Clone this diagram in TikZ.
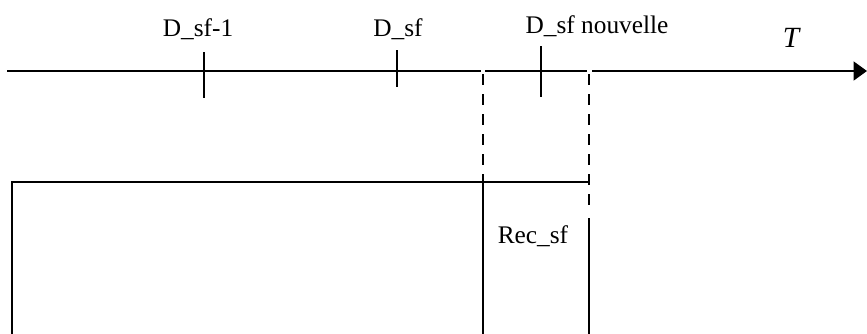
\documentclass[tikz,border=0pt]{standalone}
\usepackage{fontspec}
\setmainfont{Liberation Serif}
\usetikzlibrary{arrows.meta}
\begin{document}
\begin{tikzpicture}[x=0.75pt,y=-0.75pt,
  solidline/.style={line width=1.8pt},
  dashline/.style={line width=1.8pt,dash pattern=on 8pt off 7pt},
  lbl/.style={font=\fontsize{19}{22}\selectfont,anchor=base,inner sep=0pt},
  axisarrow/.style={line width=1.8pt,-{Triangle[length=10pt,width=14pt]}}]
\useasboundingbox (0,0) rectangle (867,333);
% axis coordinates
\coordinate (a0) at (7,71);
\coordinate (a1) at (481,71);
\coordinate (a2) at (485,71);
\coordinate (a3) at (587,71);
\coordinate (a4) at (592,71);
\coordinate (aend) at (867,71);
\draw[solidline] (a0) -- (a1);
\draw[solidline] (a2) -- (a3);
\draw[axisarrow] (a4) -- (aend);
% ticks
\coordinate (t1a) at (204,52); \coordinate (t1b) at (204,98);
\coordinate (t2a) at (397,50); \coordinate (t2b) at (397,87);
\coordinate (t3a) at (541,46); \coordinate (t3b) at (541,97);
\draw[solidline] (t1a) -- (t1b);
\draw[solidline] (t2a) -- (t2b);
\draw[solidline] (t3a) -- (t3b);
% labels
\node[lbl] (l1) at (198,36) {D\_sf-1};
\node[lbl] (l2) at (398,36) {D\_sf};
\node[lbl] (l3) at (597,33) {D\_sf nouvelle};
\node[lbl,font=\fontsize{22}{24}\selectfont\itshape] (lT) at (791,47) {T};
\node[lbl] (lr) at (533,243) {Rec\_sf};
% dashed verticals
\coordinate (d1a) at (483,74); \coordinate (d1b) at (483,182);
\coordinate (d2a) at (589,74); \coordinate (d2b) at (589,212);
\draw[dashline] (d1a) -- (d1b);
\draw[dashline] (d2a) -- (d2b);
% rectangle
\coordinate (r0) at (12,340);
\coordinate (r1) at (12,182);
\coordinate (r2) at (589,182);
\coordinate (r3) at (483,182);
\coordinate (r4) at (483,340);
\coordinate (r5) at (589,218);
\coordinate (r6) at (589,340);
\draw[solidline] (r0) -- (r1) -- (r2);
\draw[solidline] (r3) -- (r4);
\draw[solidline] (r5) -- (r6);
\end{tikzpicture}
\end{document}
